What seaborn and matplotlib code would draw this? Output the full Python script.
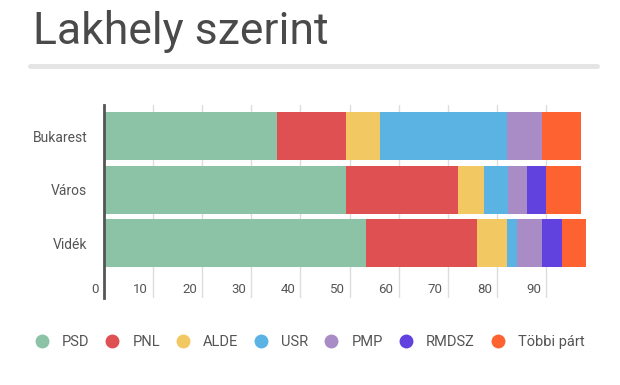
import matplotlib
matplotlib.use("Agg")
import matplotlib.pyplot as plt
import matplotlib.transforms as mtransforms
from matplotlib.lines import Line2D
import pandas as pd
import seaborn as sns

# Data (percent)
regions = ["Bukarest", "Város", "Vidék"]
parties = ["PSD", "PNL", "ALDE", "USR", "PMP", "RMDSZ", "Többi párt"]
psd = [35.2, 49.2, 53.3]
pnl = [14.0, 22.9, 22.7]
alde = [7.0, 5.2, 6.1]
usr = [25.9, 4.9, 2.1]
pmp = [7.1, 4.0, 5.0]
rmdsz = [0.0, 3.9, 4.0]
tobbi = [7.9, 7.0, 4.9]
x_ticks = [0, 10, 20, 30, 40, 50, 60, 70, 80, 90]

colors = ["#8cc2a5", "#df5053", "#f2c862", "#5bb3e4", "#a98cc5", "#6242de", "#fd6230"]


def main():
    sns.set_theme(style="white")
    plt.rcParams["font.family"] = ["Roboto", "DejaVu Sans"]

    text_color = "#555555"
    grid_color = "#dddddd"

    data = pd.DataFrame(
        [psd, pnl, alde, usr, pmp, rmdsz, tobbi], index=parties, columns=regions
    ).T
    cum = data.cumsum(axis=1)

    fig = plt.figure(figsize=(6.2, 3.85), dpi=100)
    fig.patch.set_facecolor("white")
    ax = fig.add_axes([104 / 620, 1 - 298 / 385, 491 / 620, 193 / 385])

    # Stacked bars: draw cumulative totals from the outermost segment inwards
    for party, color in reversed(list(zip(parties, colors))):
        sns.barplot(
            x=cum[party].values, y=regions, orient="h", color=color,
            width=0.89, saturation=1, linewidth=0, ax=ax, zorder=2,
        )

    ax.set_xlim(0, 100)
    ax.set_ylim(3.02, -0.58)

    # Grid lines at the ticks, under the bars
    ax.set_xticks(x_ticks)
    ax.grid(False)
    for t in x_ticks[1:]:
        ax.axvline(t, color=grid_color, lw=1, zorder=0)

    # Tick labels sit inside the plot, right-aligned against their grid line
    ax.set_xticklabels([])
    ax.tick_params(axis="x", length=0)
    trans = mtransforms.blended_transform_factory(ax.transData, ax.transAxes)
    offset = mtransforms.ScaledTranslation(-5 / 100, 0, fig.dpi_scale_trans)
    for t in x_ticks:
        ax.text(t, 0.045, str(t), transform=trans + offset, ha="right",
                va="center", fontsize=9.5, color=text_color)

    ax.tick_params(axis="y", length=0, pad=12, labelsize=10, labelcolor=text_color)
    ax.set_xlabel("")
    ax.set_ylabel("")

    for side in ["top", "right", "bottom"]:
        ax.spines[side].set_visible(False)
    ax.spines["left"].set_color("#555555")
    ax.spines["left"].set_linewidth(2)
    ax.spines["left"].set_zorder(3)

    # Title and rule under it
    fig.text(33 / 620, 1 - 44 / 385, "Lakhely szerint", fontsize=32,
             fontweight="normal", color="#4a4a4a", ha="left", va="baseline")
    fig.add_artist(Line2D([30 / 620, 597 / 620], [1 - 66 / 385, 1 - 66 / 385],
                          color="#e4e4e4", lw=3.5, transform=fig.transFigure))

    # Legend with round markers
    handles = [
        Line2D([0], [0], marker="o", linestyle="", markersize=10,
               markerfacecolor=c, markeredgewidth=0)
        for c in colors
    ]
    fig.legend(
        handles, parties, loc="center left", bbox_to_anchor=(34.5 / 620, 1 - 342 / 385),
        ncol=7, frameon=False, fontsize=10.5, handletextpad=0.87, borderpad=0,
        borderaxespad=0, columnspacing=1.08, handlelength=1.0, labelcolor=text_color,
    )

    fig.savefig("out.png", dpi=100, facecolor="white")


if __name__ == "__main__":
    main()
